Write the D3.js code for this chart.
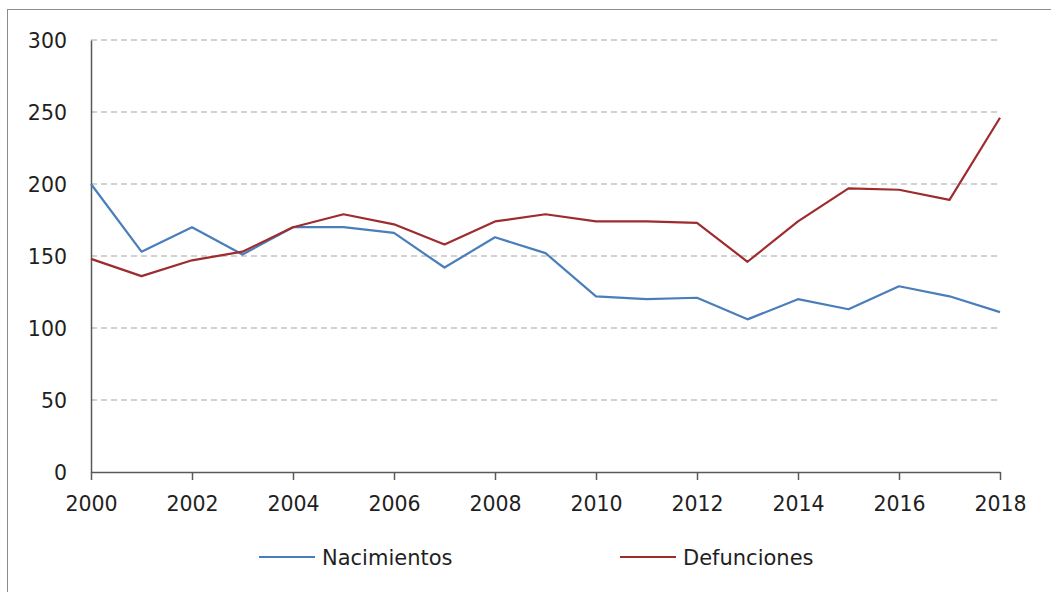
<!DOCTYPE html>
<html>
    <head>
    <meta charset="utf-8">
    <title>Nacimientos y Defunciones</title>
    <script src="https://d3js.org/d3.v7.min.js"></script>
    <style>
        body { margin: 0; background: #ffffff; }
        text { font-family: "DejaVu Sans", sans-serif; fill: #1f1f1f; }
    </style>
    </head>
    <body>
        <div id="my_dataviz"></div>
    </body>

    <script>
        // data
        var years = [2000, 2001, 2002, 2003, 2004, 2005, 2006, 2007, 2008, 2009,
                     2010, 2011, 2012, 2013, 2014, 2015, 2016, 2017, 2018]
        var nacimientos = [200, 153, 170, 151, 170, 170, 166, 142, 163, 152,
                           122, 120, 121, 106, 120, 113, 129, 122, 111]
        var defunciones = [148, 136, 147, 153, 170, 179, 172, 158, 174, 179,
                           174, 174, 173, 146, 174, 197, 196, 189, 246]
        var yTicks = [0, 50, 100, 150, 200, 250, 300]
        var xTicks = [2000, 2002, 2004, 2006, 2008, 2010, 2012, 2014, 2016, 2018]
        var seriesNames = ["Nacimientos", "Defunciones"]

        var W = 1051, H = 592
        var margin = { top: 40, right: 51, bottom: 120, left: 91 },
            width = W - margin.left - margin.right,
            height = H - margin.top - margin.bottom

        var svg = d3.select("#my_dataviz")
            .append("svg")
            .attr("width", W)
            .attr("height", H)

        // outer frame of the chart (only top/left edges visible in the picture)
        svg.append("rect")
            .attr("x", 7.5)
            .attr("y", 9.5)
            .attr("width", W + 10)
            .attr("height", H + 10)
            .attr("fill", "none")
            .attr("stroke", "#8c8c8c")
            .attr("stroke-width", 1)

        var g = svg.append("g")
            .attr("transform", "translate(" + margin.left + "," + margin.top + ")")

        var x = d3.scaleLinear()
            .domain([2000, 2018])
            .range([0, width])

        var y = d3.scaleLinear()
            .domain([0, 300])
            .range([height, 0])

        // dashed gridlines
        g.append("g")
            .selectAll("line")
            .data(yTicks.filter(function (d) { return d > 0 }))
            .enter().append("line")
            .attr("x1", 0)
            .attr("x2", width)
            .attr("y1", function (d) { return y(d) })
            .attr("y2", function (d) { return y(d) })
            .attr("stroke", "#a6a6a6")
            .attr("stroke-width", 1.2)
            .attr("stroke-dasharray", "6,4")

        // y axis: line only, no tick marks
        var yAxis = g.append("g")
            .call(d3.axisLeft(y).tickValues(yTicks).tickSize(0).tickPadding(24))
        yAxis.select(".domain").attr("stroke", "#595959").attr("stroke-width", 1.5)
        yAxis.selectAll("text").style("font-size", "20.5px").attr("dy", "0.36em")

        // x axis with ticks below
        var xAxis = g.append("g")
            .attr("transform", "translate(0," + height + ")")
            .call(d3.axisBottom(x).tickValues(xTicks).tickFormat(d3.format("d")).tickSizeInner(8).tickSizeOuter(0).tickPadding(16))
        xAxis.select(".domain").attr("stroke", "#595959").attr("stroke-width", 1.5)
        xAxis.selectAll(".tick line").attr("stroke", "#595959").attr("stroke-width", 1.5)
        xAxis.selectAll("text").style("font-size", "20.5px")

        var line = d3.line()
            .x(function (d, i) { return x(years[i]) })
            .y(function (d) { return y(d) })

        var colors = ["#4a7ebb", "#9e2b2e"]

        g.append("path")
            .datum(nacimientos)
            .attr("fill", "none")
            .attr("stroke", colors[0])
            .attr("stroke-width", 2.2)
            .attr("stroke-linejoin", "round")
            .attr("d", line)

        g.append("path")
            .datum(defunciones)
            .attr("fill", "none")
            .attr("stroke", colors[1])
            .attr("stroke-width", 2.2)
            .attr("stroke-linejoin", "round")
            .attr("d", line)

        // legend
        var legendX = [259, 620]
        var legend = svg.append("g")
            .selectAll("g")
            .data(seriesNames)
            .enter().append("g")
            .attr("transform", function (d, i) { return "translate(" + legendX[i] + ",557)" })

        legend.append("line")
            .attr("x1", 0)
            .attr("x2", 56)
            .attr("stroke", function (d, i) { return colors[i] })
            .attr("stroke-width", 2)

        legend.append("text")
            .attr("x", 63)
            .attr("dy", "0.36em")
            .style("font-size", "21px")
            .text(function (d) { return d })
    </script>
</html>
